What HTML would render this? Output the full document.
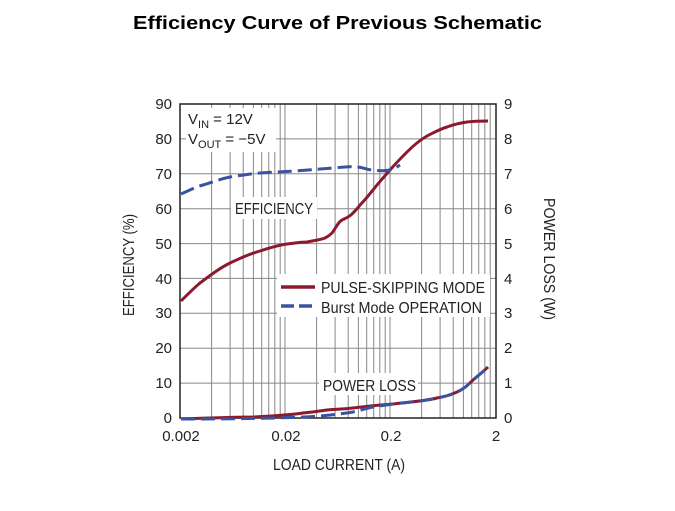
<!DOCTYPE html>
<html><head><style>body{margin:0;background:#fff;width:675px;height:506px;overflow:hidden}</style></head><body>
<svg width="675" height="506" xmlns="http://www.w3.org/2000/svg" font-family="Liberation Sans, sans-serif">
<text x="133" y="29" textLength="409" lengthAdjust="spacingAndGlyphs" font-size="18" font-weight="bold">Efficiency Curve of Previous Schematic</text>
<g stroke="#888" stroke-width="1">
<line x1="180" y1="138.9" x2="496" y2="138.9"/><line x1="180" y1="173.8" x2="496" y2="173.8"/><line x1="180" y1="208.7" x2="496" y2="208.7"/><line x1="180" y1="243.6" x2="496" y2="243.6"/><line x1="180" y1="278.4" x2="496" y2="278.4"/><line x1="180" y1="313.3" x2="496" y2="313.3"/><line x1="180" y1="348.2" x2="496" y2="348.2"/><line x1="180" y1="383.1" x2="496" y2="383.1"/>
</g>
<g id="vg" stroke="#888" stroke-width="1"></g>
<g fill="#fff">
<rect x="186" y="108" width="90" height="44"/>
<rect x="231" y="197" width="86" height="22"/>
<rect x="277" y="274" width="213" height="43"/>
<rect x="319" y="373" width="99" height="22"/>
</g>
<rect x="180" y="104" width="316" height="314" fill="none" stroke="#222" stroke-width="1.5"/>
<g font-size="15" fill="#222" text-anchor="end">
<text x="172" y="109">90</text><text x="172" y="144">80</text><text x="172" y="179">70</text><text x="172" y="214">60</text><text x="172" y="249">50</text><text x="172" y="284">40</text><text x="172" y="318">30</text><text x="172" y="353">20</text><text x="172" y="388">10</text><text x="172" y="423">0</text>
</g>
<g font-size="15" fill="#222">
<text x="504" y="109">9</text><text x="504" y="144">8</text><text x="504" y="179">7</text><text x="504" y="214">6</text><text x="504" y="249">5</text><text x="504" y="284">4</text><text x="504" y="318">3</text><text x="504" y="353">2</text><text x="504" y="388">1</text><text x="504" y="423">0</text>
</g>
<g font-size="15" fill="#222" text-anchor="middle">
<text x="181" y="441">0.002</text><text x="286" y="441">0.02</text><text x="391" y="441">0.2</text><text x="496" y="441">2</text>
</g>
<g font-size="16" fill="#222">
<text x="273" y="470" textLength="132" lengthAdjust="spacingAndGlyphs">LOAD CURRENT (A)</text>
<text transform="translate(134,316) rotate(-90)" textLength="102" lengthAdjust="spacingAndGlyphs">EFFICIENCY (%)</text>
<text transform="translate(544,198) rotate(90)" textLength="122" lengthAdjust="spacingAndGlyphs">POWER LOSS (W)</text>
<text x="188" y="124" font-size="15">V<tspan font-size="11" dy="4">IN</tspan><tspan dy="-4"> = 12V</tspan></text>
<text x="188" y="144" font-size="15">V<tspan font-size="11" dy="4">OUT</tspan><tspan dy="-4"> = −5V</tspan></text>
<text x="235" y="214" textLength="78" lengthAdjust="spacingAndGlyphs">EFFICIENCY</text>
<text x="323" y="391" textLength="93" lengthAdjust="spacingAndGlyphs">POWER LOSS</text>
<text x="321" y="293" textLength="164" lengthAdjust="spacingAndGlyphs">PULSE-SKIPPING MODE</text>
<text x="321" y="313" textLength="161" lengthAdjust="spacingAndGlyphs">Burst Mode OPERATION</text>
</g>
<line x1="281" y1="287" x2="315" y2="287" stroke="#8b1a2e" stroke-width="3.5"/>
<line x1="281" y1="306" x2="315" y2="306" stroke="#3a52a0" stroke-width="3.5" stroke-dasharray="13,5"/>
<g fill="none" stroke-width="3" stroke-linejoin="round">
<path stroke="#8b1a2e" d="M181,301 C190,292 195,287 200,283 C212,274 220,268 230,263 C245,256 250,254 260,251 C272,247 280,245 287,244 C297,243 300,242 307,242 C316,240 320,240 325,238 C329,236 330,235 332,233 C336,228 338,222 342,220 C346,218 349,217 352,214 C356,210 358,208 360,205 C365,200 368,196 373,190 C380,181 384,177 390,170 C397,162 401,158 407,152 C413,146 420,140 427,136 C435,132 440,129 447,127 C455,124 460,123 467,122 C475,121 482,121 488,121"/>
<path stroke="#3a52a0" stroke-dasharray="14,6" d="M181,194 C190,190 196,187 203,185 C213,182 220,179 230,177 C243,175 250,174 260,173 C272,172 282,172 293,171 C310,170 320,169 333,168 C345,167 352,166 358,167 C365,168 368,170 373,170 C380,171 385,171 390,170 C394,169 397,167 400,165"/>
<path stroke="#8b1a2e" d="M181,419 C210,418 235,417 253,417 C275,416 290,415 303,413 C315,412 320,411 327,410 C340,409 345,409 353,408 C370,406 380,405 393,404 C410,402 425,401 437,398 C447,396 450,395 457,392 C464,389 468,385 473,380 C480,374 484,371 488,367"/>
<path stroke="#3a52a0" stroke-dasharray="14,6" d="M181,419 C240,419 280,418 303,417 C325,416 340,414 353,412 C362,410 367,408 373,407 C380,406 386,405 393,404 C410,402 425,401 437,398 C447,396 450,395 457,392 C464,389 468,385 473,380 C480,374 484,371 488,367"/>
</g>
<script>
var g=document.getElementById('vg');var ns='http://www.w3.org/2000/svg';
for(var d=0;d<3;d++)for(var m=1;m<=9;m++){if(d==0&&m==1)continue;var x=180+105*(d+Math.log10(m));
var l=document.createElementNS(ns,'line');l.setAttribute('x1',x);l.setAttribute('x2',x);l.setAttribute('y1',104);l.setAttribute('y2',418);g.appendChild(l);}
</script>
</svg>
</body></html>
